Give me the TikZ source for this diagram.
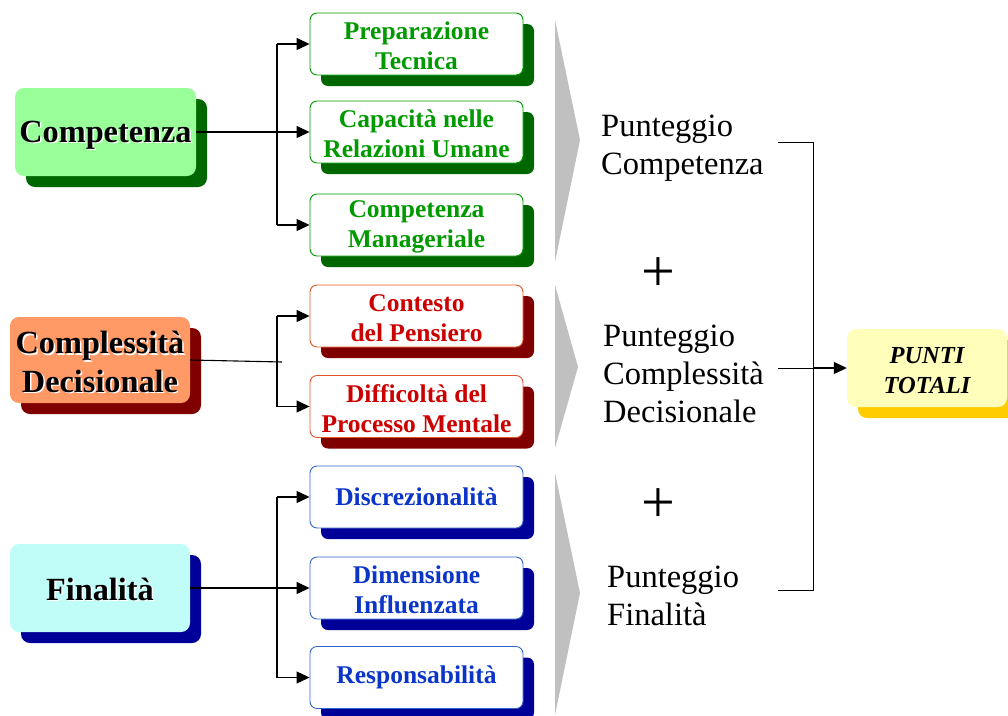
\documentclass[tikz,border=0pt]{standalone}
\usepackage{fontspec}
\setmainfont{Liberation Serif}
\usetikzlibrary{arrows.meta,shadows}
\definecolor{gfill}{HTML}{99FF99}
\definecolor{gshad}{HTML}{006600}
\definecolor{gtext}{HTML}{009900}
\definecolor{ofill}{HTML}{FF9966}
\definecolor{rshad}{HTML}{800000}
\definecolor{rtext}{HTML}{CC0000}
\definecolor{rline}{HTML}{E0552A}
\definecolor{cfill}{HTML}{C0FCF8}
\definecolor{bshad}{HTML}{000099}
\definecolor{btext}{HTML}{0A35C8}
\definecolor{bline}{HTML}{3366CC}
\definecolor{yfill}{HTML}{FFFFBB}
\definecolor{yshad}{HTML}{FFCC00}
\definecolor{chev}{HTML}{C0C0C0}
\begin{document}
\begin{tikzpicture}[x=1pt,y=-1pt,
  conn/.style={line width=1.1pt, black},
  arr/.style={conn,-{Triangle[length=13pt,width=12pt]}},
  mainbox/.style={rounded corners=9pt, minimum width=181pt, minimum height=88pt, inner sep=0pt, draw=none},
  mainlbl/.style={align=center, inner sep=0pt, font=\fontsize{32.3}{38.5}\selectfont\bfseries},
  subbox/.style={rounded corners=7pt, minimum width=213pt, minimum height=62pt, inner sep=0pt, line width=0.9pt, fill=white, shape=rectangle},
  sublbl/.style={align=center, inner sep=0pt, font=\fontsize{25.5}{30}\selectfont\bfseries},
  rtxt/.style={align=left, inner sep=0pt, anchor=west, font=\fontsize{32.5}{38}\selectfont},
  plus/.style={inner sep=0pt, font=\fontsize{60}{60}\selectfont},
  shad/.style={drop shadow={shadow xshift=11pt, shadow yshift=-11pt, opacity=1, fill=#1}}
]
\useasboundingbox (0,0) rectangle (1008,715);

% grey chevrons
\fill[chev] (555,20) -- (580,140) -- (555,262) -- cycle;
\fill[chev] (555,285) -- (578,367) -- (555,448) -- cycle;
\fill[chev] (555,473) -- (580,593) -- (555,715) -- cycle;

% main boxes
\node[mainbox, fill=gfill, shad=gshad] (comp) at (105.5,132) {};
\node[mainlbl, white] (compw) at ([shift={(1.5,4.5)}]comp.center) {Competenza};
\node[mainlbl] (compt) at ([shift={(0,3)}]comp.center) {Competenza};

\node[mainbox, fill=ofill, shad=rshad, minimum width=180pt, minimum height=86pt] (cd) at (100,360) {};
\node[mainlbl, white] (cdw) at ([shift={(1.5,3.5)}]cd.center) {Complessità\\Decisionale};
\node[mainlbl] (cdt) at ([shift={(0,2)}]cd.center) {Complessità\\Decisionale};

\node[mainbox, fill=cfill, shad=bshad, minimum width=180pt] (fin) at (100,588) {};
\node[mainlbl, white] (finw) at ([shift={(1.5,2.5)}]fin.center) {Finalità};
\node[mainlbl] (fint) at ([shift={(0,1)}]fin.center) {Finalità};

% sub boxes
\node[subbox, draw=gtext, shad=gshad] (m1) at (416.5,44) {};
\node[subbox, draw=gtext, shad=gshad] (m2) at (416.5,132) {};
\node[subbox, draw=gtext, shad=gshad] (m3) at (416.5,225) {};
\node[subbox, draw=rline, shad=rshad] (m4) at (416.5,316) {};
\node[subbox, draw=rline, shad=rshad] (m5) at (416.5,406.5) {};
\node[subbox, draw=bline, shad=bshad] (m6) at (416.5,497) {};
\node[subbox, draw=bline, shad=bshad] (m7) at (416.5,588) {};
\node[subbox, draw=bline, shad=bshad] (m8) at (416.5,677.5) {};
\node[sublbl, text=gtext] (t1) at ([shift={(0,2)}]m1.center) {Preparazione\\Tecnica};
\node[sublbl, text=gtext] (t2) at ([shift={(0,2)}]m2.center) {Capacità nelle\\Relazioni Umane};
\node[sublbl, text=gtext] (t3) at ([shift={(0,2)}]m3.center) {Competenza\\Manageriale};
\node[sublbl, text=rtext] (t4) at ([shift={(0,2)}]m4.center) {Contesto\\del Pensiero};
\node[sublbl, text=rtext] (t5) at ([shift={(0,2)}]m5.center) {Difficoltà del\\Processo Mentale};
\node[sublbl, text=btext] (t6) at ([shift={(0,0)}]m6.center) {Discrezionalità};
\node[sublbl, text=btext] (t7) at ([shift={(0,2)}]m7.center) {Dimensione\\Influenzata};
\node[sublbl, text=btext] (t8) at ([shift={(0,0)}]m8.center) {Responsabilità};

% connectors
\coordinate (cj1) at (277,132);
\coordinate (cj2) at (282,362);
\coordinate (cj3) at (277,588);
\draw[conn] (m1.west -| cj1) -- (m3.west -| cj1);
\draw[arr] (comp.east) -- (m2.west);
\draw[arr] (m1.west -| cj1) -- (m1.west);
\draw[arr] (m3.west -| cj1) -- (m3.west);

\draw[conn] (m4.west -| cj1) -- (m5.west -| cj1);
\draw[conn] (cd.east) -- (cj2);
\draw[arr] (m4.west -| cj1) -- (m4.west);
\draw[arr] (m5.west -| cj1) -- (m5.west);

\draw[conn] (m6.west -| cj3) -- (m8.west -| cj3);
\draw[arr] (fin.east) -- (m7.west);
\draw[arr] (m6.west -| cj3) -- (m6.west);
\draw[arr] (m8.west -| cj3) -- (m8.west);

% right texts
\node[rtxt] (p1) at (601,148) {Punteggio\\Competenza};
\node[plus] (plus1) at (658,275) {+};
\node[rtxt] (p2) at (603,374) {Punteggio\\Complessità\\Decisionale};
\node[plus] (plus2) at (658,506) {+};
\node[rtxt] (p3) at (607,596) {Punteggio\\Finalità};

% total
\node[rounded corners=9pt, minimum width=160pt, minimum height=78pt, inner sep=0pt, fill=yfill, shad=yshad] (tot) at (927,368) {};
\node[align=center, inner sep=0pt, font=\fontsize{24.5}{30}\selectfont\bfseries\itshape] (tott) at ([shift={(0,3)}]tot.center) {PUNTI\\TOTALI};

% bracket
\coordinate (b1) at (778,142);
\coordinate (b2) at (778,368);
\coordinate (b3) at (778,590);
\coordinate (bt) at (813,142);
\coordinate (bm) at (813,368);
\coordinate (bb) at (813,590);
\draw[line width=0.9pt] (b1) -- (bt) -- (bb) -- (b3);
\draw[line width=0.9pt] (b2) -- (bm);
\draw[arr] (bm) -- (tot.west);
\end{tikzpicture}
\end{document}
